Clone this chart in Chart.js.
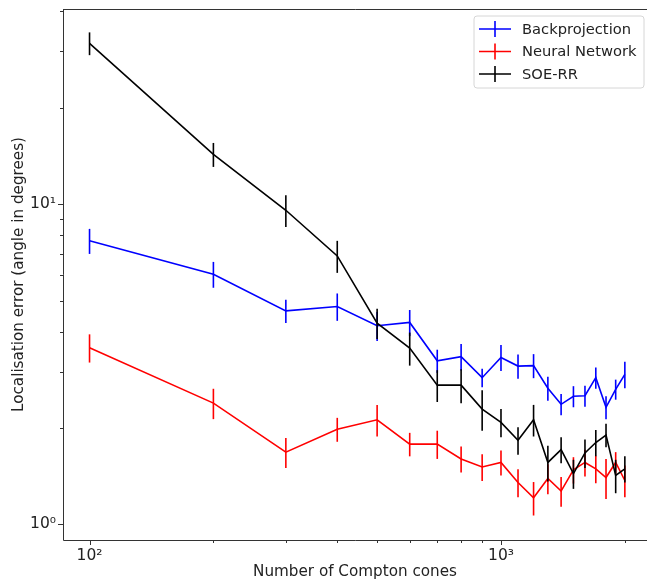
<!DOCTYPE html>
<html lang="en">
<head>
    <meta charset="UTF-8">
    <title>Localisation error vs Compton cones</title>
    <script src="https://cdn.jsdelivr.net/npm/chart.js"></script>
    <style>
        html, body { margin: 0; padding: 0; background: #fff; }
        .chart-container { position: relative; width: 647px; height: 583px; }
    </style>
</head>
<body>
    <div class="chart-container">
        <canvas id="errorChart"></canvas>
    </div>

    <script>
        // number of Compton cones (x)
        const cones = [100, 200, 300, 400, 500, 600, 700, 800, 900, 1000,
                       1100, 1200, 1300, 1400, 1500, 1600, 1700, 1800, 1900, 2000];

        // localisation error in degrees
        const backprojection = [7.68, 6.04, 4.64, 4.79, 4.17, 4.27, 3.24, 3.34, 2.87, 3.32,
                                3.12, 3.13, 2.66, 2.37, 2.51, 2.52, 2.87, 2.32, 2.64, 2.94];
        const backprojectionErr = [0.69, 0.56, 0.39, 0.47, 0.43, 0.40, 0.27, 0.32, 0.19, 0.31,
                                   0.27, 0.27, 0.23, 0.18, 0.19, 0.19, 0.22, 0.19, 0.19, 0.28];

        const neuralNetwork = [3.56, 2.39, 1.68, 1.98, 2.12, 1.78, 1.78, 1.60, 1.51, 1.56,
                               1.35, 1.21, 1.39, 1.27, 1.48, 1.56, 1.49, 1.40, 1.56, 1.37];
        const neuralNetworkErr = [0.36, 0.26, 0.18, 0.17, 0.24, 0.15, 0.18, 0.15, 0.145, 0.14,
                                  0.135, 0.145, 0.15, 0.135, 0.14, 0.15, 0.146, 0.20, 0.12, 0.156];

        const soeRR = [31.8, 14.3, 9.57, 6.89, 4.25, 3.55, 2.72, 2.72, 2.29, 2.08,
                       1.83, 2.12, 1.56, 1.71, 1.44, 1.67, 1.80, 1.90, 1.42, 1.49];
        const soeRRErr = [2.6, 1.23, 1.09, 0.79, 0.46, 0.42, 0.31, 0.33, 0.33, 0.21,
                          0.18, 0.24, 0.20, 0.16, 0.15, 0.17, 0.17, 0.16, 0.17, 0.14];

        // tick positions (log axes, majors labelled)
        const xTicks = [100, 200, 300, 400, 500, 600, 700, 800, 900, 1000, 2000];
        const yTicks = [1, 2, 3, 4, 5, 6, 7, 8, 9, 10, 20, 30, 40];
        const tickLabels = { 1: "10\u2070", 10: "10\u00b9", 100: "10\u00b2", 1000: "10\u00b3" };

        Chart.defaults.font.family = "'DejaVu Sans', sans-serif";
        Chart.defaults.color = "#222";

        function points(ys) {
            return cones.map((c, i) => ({ x: c, y: ys[i] }));
        }

        // vertical error bars, drawn with each dataset so layering matches
        const errorBars = {
            id: "errorBars",
            afterDatasetDraw(chart, args) {
                const ds = chart.data.datasets[args.index];
                if (!ds.errors) return;
                const ctx = chart.ctx;
                const yScale = chart.scales.y;
                const area = chart.chartArea;
                ctx.save();
                ctx.beginPath();
                ctx.rect(area.left, area.top, area.right - area.left, area.bottom - area.top);
                ctx.clip();
                ctx.strokeStyle = ds.borderColor;
                ctx.lineWidth = 1.6;
                args.meta.data.forEach((pt, i) => {
                    const v = ds.data[i].y;
                    const e = ds.errors[i];
                    ctx.beginPath();
                    ctx.moveTo(pt.x, yScale.getPixelForValue(v + e));
                    ctx.lineTo(pt.x, yScale.getPixelForValue(v - e));
                    ctx.stroke();
                });
                ctx.restore();
            }
        };

        // matplotlib-like frame, tick marks and legend box
        const frame = {
            id: "frame",
            afterDraw(chart) {
                const ctx = chart.ctx;
                const a = chart.chartArea;
                const xs = chart.scales.x, ys = chart.scales.y;
                ctx.save();
                ctx.strokeStyle = "#333";
                ctx.lineWidth = 1;

                // spines
                ctx.beginPath();
                ctx.moveTo(a.left + 0.5, a.top + 0.5);
                ctx.lineTo(a.right, a.top + 0.5);
                ctx.moveTo(a.left + 0.5, a.top);
                ctx.lineTo(a.left + 0.5, a.bottom + 0.5);
                ctx.lineTo(a.right, a.bottom + 0.5);
                ctx.stroke();

                // ticks
                ctx.beginPath();
                xTicks.forEach(v => {
                    const px = Math.round(xs.getPixelForValue(v)) + 0.5;
                    const len = tickLabels[v] ? 5 : 3;
                    ctx.moveTo(px, a.bottom);
                    ctx.lineTo(px, a.bottom + len);
                });
                yTicks.forEach(v => {
                    const py = Math.round(ys.getPixelForValue(v)) + 0.5;
                    const len = tickLabels[v] ? 5 : 3;
                    ctx.moveTo(a.left, py);
                    ctx.lineTo(a.left - len, py);
                });
                ctx.stroke();

                // legend
                const bx = 474, by = 16, bw = 170, bh = 72, r = 3;
                ctx.beginPath();
                ctx.moveTo(bx + r, by);
                ctx.arcTo(bx + bw, by, bx + bw, by + bh, r);
                ctx.arcTo(bx + bw, by + bh, bx, by + bh, r);
                ctx.arcTo(bx, by + bh, bx, by, r);
                ctx.arcTo(bx, by, bx + bw, by, r);
                ctx.closePath();
                ctx.fillStyle = "rgba(255,255,255,0.85)";
                ctx.fill();
                ctx.strokeStyle = "#d6d6d6";
                ctx.stroke();

                const rows = [29, 51.5, 74];
                ctx.font = "14.7px 'DejaVu Sans'";
                ctx.textBaseline = "middle";
                ctx.textAlign = "left";
                chart.data.datasets.forEach((ds, i) => {
                    const y = rows[i];
                    ctx.strokeStyle = ds.borderColor;
                    ctx.lineWidth = 1.6;
                    ctx.beginPath();
                    ctx.moveTo(479, y);
                    ctx.lineTo(511, y);
                    ctx.moveTo(495, y - 8);
                    ctx.lineTo(495, y + 8);
                    ctx.stroke();
                    ctx.fillStyle = "#222";
                    ctx.fillText(ds.label, 522, y + 1);
                });
                ctx.restore();
            }
        };

        const ctx = document.getElementById("errorChart").getContext("2d");
        new Chart(ctx, {
            type: "line",
            data: {
                datasets: [
                    { label: "Backprojection", data: points(backprojection), errors: backprojectionErr,
                      borderColor: "#0000ff", order: 3 },
                    { label: "Neural Network", data: points(neuralNetwork), errors: neuralNetworkErr,
                      borderColor: "#ff0000", order: 2 },
                    { label: "SOE-RR", data: points(soeRR), errors: soeRRErr,
                      borderColor: "#000000", order: 1 }
                ]
            },
            options: {
                responsive: true,
                maintainAspectRatio: false,
                animation: false,
                layout: { padding: { top: 9, right: 0, left: 0, bottom: 0 } },
                elements: {
                    line: { borderWidth: 1.6, tension: 0, fill: false },
                    point: { radius: 0, hoverRadius: 0 }
                },
                plugins: {
                    legend: { display: false },
                    tooltip: { enabled: false }
                },
                scales: {
                    x: {
                        type: "logarithmic",
                        min: 86.2,
                        max: 2264,
                        grid: { display: false, drawTicks: false },
                        border: { display: false },
                        afterBuildTicks: s => { s.ticks = xTicks.map(v => ({ value: v })); },
                        afterFit: s => {
                            s.height = 43;
                            s.paddingLeft = 0;
                            s.paddingRight = 0;
                        },
                        ticks: {
                            autoSkip: false,
                            maxRotation: 0,
                            padding: 7,
                            font: { size: 15.5 },
                            color: "#222",
                            callback: v => tickLabels[v] || ""
                        },
                        title: {
                            display: true,
                            text: "Number of Compton cones",
                            font: { size: 15.2 },
                            color: "#222",
                            padding: { top: 0, bottom: 2 }
                        }
                    },
                    y: {
                        type: "logarithmic",
                        min: 0.893,
                        max: 40.7,
                        grid: { display: false, drawTicks: false },
                        border: { display: false },
                        afterBuildTicks: s => { s.ticks = yTicks.map(v => ({ value: v })); },
                        afterFit: s => {
                            s.width = 63;
                            s.paddingTop = 0;
                            s.paddingBottom = 0;
                        },
                        ticks: {
                            autoSkip: false,
                            padding: 7,
                            font: { size: 15.5 },
                            color: "#222",
                            callback: v => tickLabels[v] || ""
                        },
                        title: {
                            display: true,
                            text: "Localisation error (angle in degrees)",
                            font: { size: 15.2 },
                            color: "#222",
                            padding: { top: 10, bottom: 0 }
                        }
                    }
                }
            },
            plugins: [errorBars, frame]
        });
    </script>
</body>
</html>
